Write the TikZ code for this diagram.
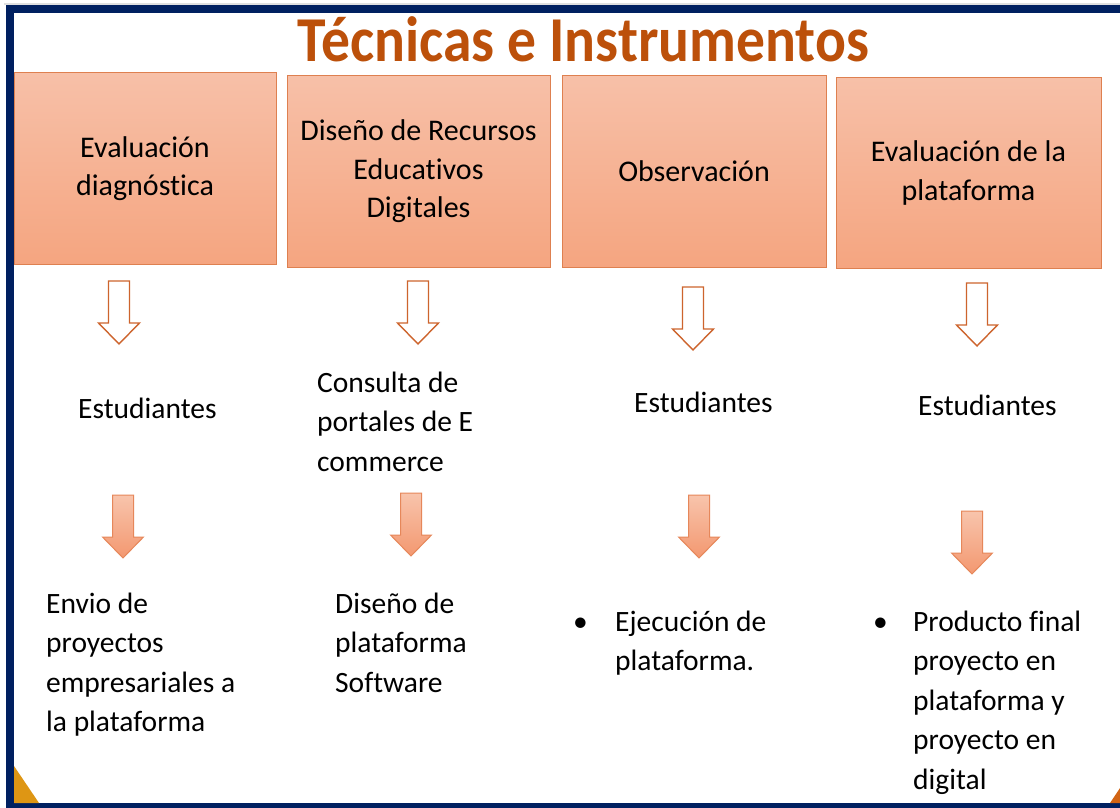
\documentclass[tikz,border=0pt]{standalone}
\usepackage{fontspec}
\setmainfont{Carlito}[Ligatures={NoCommon}]
\definecolor{navy}{RGB}{0,32,96}
\definecolor{titlecol}{RGB}{188,80,10}
\definecolor{boxtop}{RGB}{247,192,168}
\definecolor{boxbot}{RGB}{245,165,128}
\definecolor{boxline}{RGB}{222,128,80}
\definecolor{arrline}{RGB}{205,100,45}
\definecolor{farrtop}{RGB}{248,196,172}
\definecolor{farrbot}{RGB}{243,152,112}
\definecolor{farrline}{RGB}{230,135,90}
\definecolor{goldtri}{RGB}{222,150,20}
\definecolor{orangetri}{RGB}{210,100,20}
\newcommand{\bodyfont}{\fontsize{29.5}{39.5}\selectfont}
\newcommand{\boxfont}{\fontsize{30}{38.5}\selectfont}
\tikzset{
  box/.style={rectangle, draw=boxline, line width=1pt, top color=boxtop, bottom color=boxbot,
    align=center, font=\boxfont, text=black, inner sep=0pt},
  txt/.style={anchor=north west, inner sep=0pt, align=left, font=\bodyfont, text=black},
  downarrow/.pic={\path[pic actions] (-10.5,0) -- (10.5,0) -- (10.5,42) -- (20.5,42) -- (0,63)
     -- (-20.5,42) -- (-10.5,42) -- cycle;},
  hollowarrow/.style={draw=arrline, line width=1.4pt, fill=white, line join=miter},
  fullarrow/.style={draw=farrline, line width=1pt, top color=farrtop, bottom color=farrbot}
}
\begin{document}
\begin{tikzpicture}[x=1pt,y=-1pt]
\useasboundingbox (0,0) rectangle (1120,808);
\fill[white] (0,0) rectangle (1120,808);
% frame
\fill[black!12] (4,3) rectangle (1120,5);
\fill[navy] (6,5) rectangle (1120,13);
\fill[navy] (6,5) rectangle (14,808);
\fill[navy] (6,803) rectangle (1120,808);
\fill[goldtri] (14,766) -- (14,803) -- (39,803) -- cycle;
\fill[orangetri] (1120,788) -- (1120,803) -- (1110,803) -- cycle;
% title
\node[anchor=base, xscale=0.9, font=\fontsize{64}{70}\selectfont\bfseries, text=titlecol, inner sep=0pt]
  (title) at (583.5,62) {Técnicas e Instrumentos};
% boxes
\node[box, minimum width=262pt, minimum height=191pt] (b1) at (145,168.5) {Evaluación\\diagnóstica};
\node[box, minimum width=263pt, minimum height=191pt] (b2) at (418.5,171.5) {Diseño de Recursos\\Educativos\\Digitales};
\node[box, minimum width=264pt, minimum height=191pt] (b3) at (694,171.5) {Observación};
\node[box, minimum width=265pt, minimum height=190pt] (b4) at (968.5,173) {Evaluación de la\\plataforma};
% hollow arrows
\pic[hollowarrow] at (119,281) {downarrow};
\pic[hollowarrow] at (418,281) {downarrow};
\pic[hollowarrow] at (693,287) {downarrow};
\pic[hollowarrow] at (977,283) {downarrow};
% middle texts
\node[txt] (m1) at (78,390.35) {\strut Estudiantes};
\node[txt] (m2) at (317,364.35) {\strut Consulta de\\portales de E\\commerce};
\node[txt] (m3) at (634,384.35) {\strut Estudiantes};
\node[txt] (m4) at (918,387.35) {\strut Estudiantes};
% filled arrows
\pic[fullarrow] at (123,495) {downarrow};
\pic[fullarrow] at (411,493) {downarrow};
\pic[fullarrow] at (699,495) {downarrow};
\pic[fullarrow] at (972,511) {downarrow};
% bottom texts
\node[txt] (r1) at (46,585.35) {\strut Envio de\\proyectos\\empresariales a\\la plataforma};
\node[txt] (r2) at (335,585.35) {\strut Diseño de\\plataforma\\Software};
\node[txt] (r3) at (573,603.35) {\strut\makebox[42pt][l]{•}Ejecución de\\\hspace*{42pt}plataforma.};
\node[txt] (r4) at (873,603.35) {\strut\makebox[40pt][l]{•}Producto final\\\hspace*{40pt}proyecto en\\\hspace*{40pt}plataforma y\\\hspace*{40pt}proyecto en\\\hspace*{40pt}digital};
\end{tikzpicture}
\end{document}
